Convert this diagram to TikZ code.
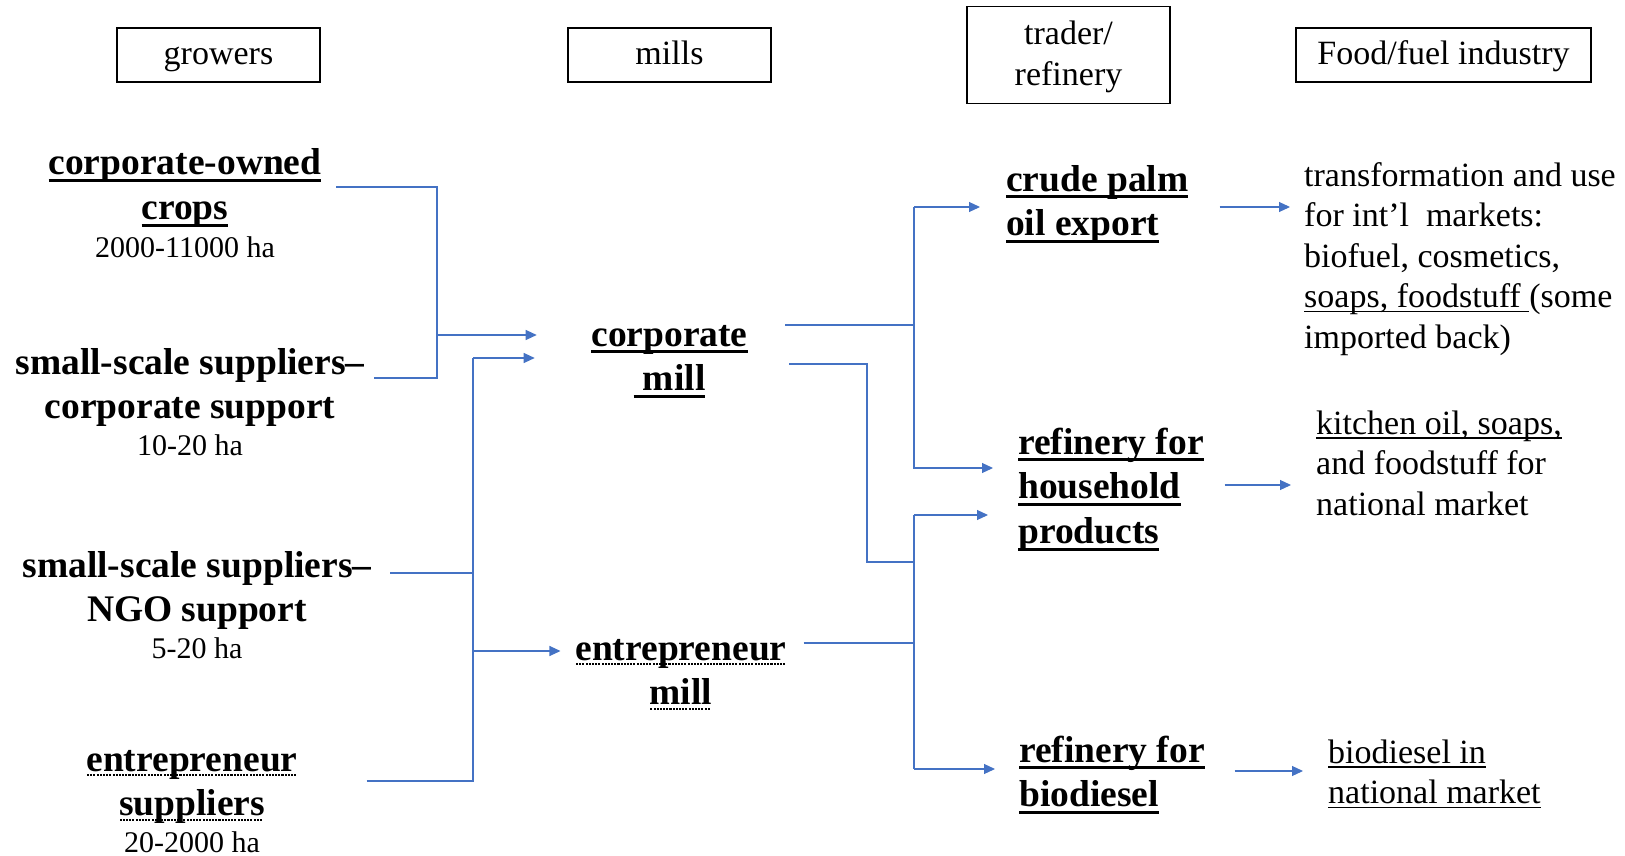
\documentclass[tikz,border=0pt]{standalone}
\usepackage{fontspec}
\setmainfont{Liberation Serif}
\usetikzlibrary{arrows.meta,calc}
\definecolor{lnblue}{HTML}{4472C4}
\newcommand\ulB[1]{{\setbox0\hbox{#1}\rlap{\rule[-0.187em]{\wd0}{0.08em}}\box0}}
\newcommand\ulD[1]{{\setbox0\hbox{#1}\rlap{\hbox to \wd0{\leaders\hbox to 0.085em{\hss\rule[-0.13em]{0.055em}{0.055em}\hss}\hfill}}\box0}}
\newcommand\ulR[1]{{\setbox0\hbox{#1}\rlap{\rule[-0.14em]{\wd0}{0.045em}}\box0}}
\newcommand\ctext[1]{\vtop{\halign{\hfil##\hfil\cr#1\crcr}}}
\newcommand\ltext[1]{\vtop{\halign{##\hfil\cr#1\crcr}}}
\newcommand\fB{\fontsize{37.5}{44.8}\selectfont\bfseries}
\newcommand\fS{\fontsize{30}{36}\selectfont\mdseries}
\newcommand\fR{\fontsize{34}{40.5}\selectfont}
\begin{document}
\begin{tikzpicture}[x=1pt,y=-1pt,
  line/.style={draw=lnblue,line width=1.1pt},
  arr/.style={line,-{Triangle[length=11pt,width=10pt]}},
  hbox/.style={draw=black,line width=1.6pt,minimum height=54pt,minimum width=203pt,inner sep=0pt,font=\fR,text height=25pt,text depth=5pt},
  item/.style={inner sep=0pt,font=\fB},
  ritem/.style={inner sep=0pt,font=\fR,anchor=base west}]
\useasboundingbox (0,0) rectangle (1625,856);

% headers
\node[hbox] (hgrow) at (218.5,55) {growers};
\node[hbox] (hmill) at (669.5,55) {mills};
\node[hbox,minimum height=97pt,text height=23pt,text depth=43pt] (htrade) at (1068.5,55) {\ctext{trader/\cr refinery}};
\node[hbox,minimum width=295pt] (hfood) at (1443.5,55) {Food/fuel industry};

% growers
\node[item,anchor=base] (cown) at (185,175) {\ctext{\ulB{corporate-owned}\cr \ulB{crops}\cr\noalign{\vskip-7pt} \fS 2000-11000 ha}};
\node[item,anchor=base] (scorp) at (190,374) {\ctext{small-scale suppliers--\cr corporate support\cr\noalign{\vskip-8pt} \fS 10-20 ha}};
\node[item,anchor=base] (sngo) at (197,577) {\ctext{small-scale suppliers--\cr NGO support\cr\noalign{\vskip-8pt} \fS 5-20 ha}};
\node[item,anchor=base] (esup) at (192,771) {\ctext{\ulD{entrepreneur}\cr \ulD{suppliers}\cr\noalign{\vskip-8pt} \fS 20-2000 ha}};

% mills
\node[item,anchor=base] (cmill) at (669.5,346) {\ctext{\ulB{corporate}\cr \ulB{\ mill}}};
\node[item,anchor=base] (emill) at (681,660) {\ctext{\ulD{entrepreneur}\cr \ulD{mill}}};

% trader / refinery
\node[item,anchor=base west] (cpo) at (1006,191) {\ltext{\ulB{crude palm}\cr \ulB{oil export}}};
\node[item,anchor=base west] (refh) at (1018,454) {\ltext{\ulB{refinery for}\cr \ulB{household}\cr \ulB{products}}};
\node[item,anchor=base west] (refb) at (1019,762) {\ltext{\ulB{refinery for}\cr \ulB{biodiesel}}};

% food / fuel industry
\node[ritem] (intl) at (1304,186) {\ltext{transformation and use\cr for int’l\ \ markets:\cr biofuel, cosmetics,\cr \ulR{soaps, foodstuff\ }(some\cr imported back)}};
\node[ritem] (kitchen) at (1316,434) {\ltext{\ulR{kitchen oil, soaps,}\cr and foodstuff for\cr national market}};
\node[ritem] (biod) at (1328,763) {\ltext{\ulR{biodiesel in}\cr \ulR{national market}}};

% growers -> mills
\coordinate (j1t) at (437,187);
\coordinate (j1b) at (437,378);
\coordinate (j1m) at (437,335);
\draw[line,shorten <=14.5pt,shorten >=9.3pt] (cown.east |- j1t) -- (j1t) -- (j1b) -- (scorp.east |- j1b);
\draw[arr,shorten >=54.5pt] (j1m) -- (j1m -| cmill.west);

\coordinate (j2t) at (473,358);
\coordinate (j2n) at (473,573);
\coordinate (j2m) at (473,651);
\coordinate (j2b) at (473,781);
\draw[line,shorten <=18.5pt] (sngo.east |- j2n) -- (j2n);
\draw[line,shorten <=68.8pt] (esup.east |- j2b) -- (j2b) -- (j2t);
\draw[arr,shorten >=56.5pt] (j2t) -- (j2t -| cmill.west);
\draw[arr,shorten >=14.8pt] (j2m) -- (j2m -| emill.west);

% mills -> trader/refinery
\coordinate (k1) at (914,325);
\coordinate (k1t) at (914,207);
\coordinate (k1b) at (914,468);
\draw[line,shorten <=37.5pt] (cmill.east |- k1) -- (k1);
\draw[arr,shorten >=26pt] (k1t) -- (k1t -| cpo.west);
\draw[arr,shorten >=25pt] (k1t) -- (k1b) -- (k1b -| refh.west);

\coordinate (k2a) at (867,364);
\coordinate (k2b) at (867,562);
\coordinate (k2c) at (914,562);
\draw[line,shorten <=41.5pt] (cmill.east |- k2a) -- (k2a) -- (k2b) -- (k2c);

\coordinate (k3t) at (914,515);
\coordinate (k3m) at (914,643);
\coordinate (k3b) at (914,769);
\draw[line,shorten <=16.8pt] (emill.east |- k3m) -- (k3m);
\draw[line] (k3t) -- (k3b);
\draw[arr,shorten >=30pt] (k3t) -- (k3t -| refh.west);
\draw[arr,shorten >=24pt] (k3b) -- (k3b -| refb.west);

% trader/refinery -> industry
\coordinate (r1) at (1250,207);
\coordinate (r2) at (1250,485);
\coordinate (r3) at (1250,771);
\draw[arr,shorten <=31pt,shorten >=14pt] (cpo.east |- r1) -- (intl.west |- r1);
\draw[arr,shorten <=20.6pt,shorten >=25pt] (refh.east |- r2) -- (kitchen.west |- r2);
\draw[arr,shorten <=29.6pt,shorten >=25pt] (refb.east |- r3) -- (biod.west |- r3);
\end{tikzpicture}
\end{document}
